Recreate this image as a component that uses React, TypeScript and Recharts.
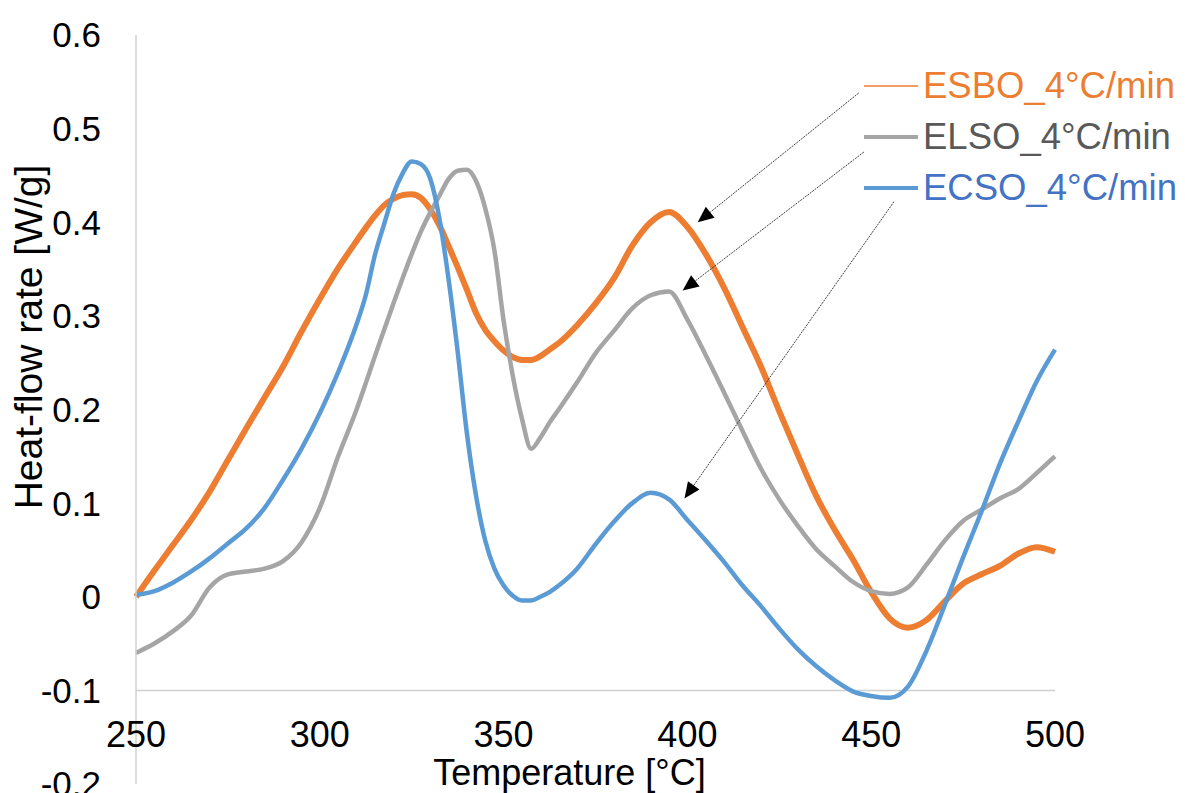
import { LineChart, Line, XAxis, YAxis, ReferenceLine, Legend } from 'recharts';

// temperature grid [°C] (finer around the sharp peaks)
const temps = [
  250, 255, 260, 265, 270, 275, 280, 285, 290, 295, 300, 305, 310,
  312.5, 315, 317.5, 320, 322.5, 325, 327.5, 330, 332.5, 335, 337.5, 340,
  342.5, 345, 347.5, 350, 352.5, 355, 357.5, 360, 362.5,
  365, 370, 375, 380, 385, 390, 395, 400, 405, 410, 415, 420, 425, 430,
  435, 440, 445, 450, 455, 460, 465, 470, 475, 480, 485, 490, 495, 500,
];

// heat-flow rate [W/g]
const esbo = [
  0.0, 0.028, 0.055, 0.082, 0.112, 0.146, 0.18, 0.213, 0.246, 0.283, 0.318, 0.351, 0.38,
  0.394, 0.407, 0.418, 0.425, 0.429, 0.43, 0.426, 0.414, 0.397, 0.375, 0.352, 0.328,
  0.303, 0.285, 0.273, 0.263, 0.256, 0.253, 0.253, 0.257, 0.264,
  0.271, 0.29, 0.313, 0.34, 0.375, 0.4, 0.411, 0.395, 0.366, 0.33, 0.288, 0.246, 0.198, 0.152,
  0.108, 0.072, 0.04, 0.005, -0.023, -0.033, -0.025, -0.005, 0.014, 0.024, 0.033, 0.046, 0.053, 0.048,
];

const elso = [
  -0.06, -0.05, -0.037, -0.02, 0.01, 0.024, 0.027, 0.03, 0.038, 0.058, 0.095, 0.15, 0.2,
  0.228, 0.257, 0.285, 0.313, 0.34, 0.366, 0.39, 0.41, 0.428, 0.446, 0.455, 0.456,
  0.444, 0.415, 0.37, 0.295, 0.236, 0.19, 0.158, 0.17, 0.186,
  0.2, 0.229, 0.26, 0.284, 0.308, 0.322, 0.326, 0.296, 0.258, 0.218, 0.177, 0.137, 0.104, 0.076,
  0.051, 0.033, 0.016, 0.006, 0.003, 0.01, 0.034, 0.06, 0.081, 0.093, 0.105, 0.115, 0.132, 0.15,
];

const ecso = [
  0.002, 0.006, 0.015, 0.027, 0.041, 0.057, 0.073, 0.095, 0.125, 0.158, 0.196, 0.24, 0.291,
  0.322, 0.365, 0.398, 0.43, 0.452, 0.465, 0.462, 0.447, 0.405, 0.34, 0.262, 0.175,
  0.108, 0.06, 0.03, 0.012, 0.001, -0.004, -0.004, 0.0, 0.005,
  0.012, 0.03, 0.056, 0.08, 0.1, 0.111, 0.104, 0.082, 0.06, 0.037, 0.012, -0.01, -0.034, -0.056,
  -0.074, -0.089, -0.101, -0.106, -0.108, -0.096, -0.058, -0.009, 0.042, 0.091, 0.142, 0.187, 0.23, 0.264,
];

const xTicks = [250, 300, 350, 400, 450, 500];
const yTicks = [-0.2, -0.1, 0, 0.1, 0.2, 0.3, 0.4, 0.5, 0.6];

const series = [
  { key: 'esbo', name: 'ESBO_4°C/min', color: '#ED7D31', text: '#ED7D31', width: 6, legendWidth: 1.5 },
  { key: 'elso', name: 'ELSO_4°C/min', color: '#A5A5A5', text: '#595959', width: 4.5, legendWidth: 4 },
  { key: 'ecso', name: 'ECSO_4°C/min', color: '#5B9BD5', text: '#4472C4', width: 4.5, legendWidth: 4 },
];

// annotation arrows, from legend towards the second peaks (data units)
const arrows = [
  { from: { x: 446.6, y: 0.538 }, to: { x: 402.8, y: 0.4 } },
  { from: { x: 448.0, y: 0.475 }, to: { x: 398.7, y: 0.327 } },
  { from: { x: 456.2, y: 0.422 }, to: { x: 399.2, y: 0.105 } },
];

const data = temps.map((t, i) => ({ t, esbo: esbo[i], elso: elso[i], ecso: ecso[i] }));

const FONT = '"Liberation Sans", Arial, sans-serif';

const fmt = (v: number) => String(Math.round(v * 10) / 10);

function Arrow(props: any) {
  const { x1, y1, x2, y2 } = props;
  const a = Math.atan2(y2 - y1, x2 - x1);
  const len = 16;
  const half = 7;
  const bx = x2 - len * Math.cos(a);
  const by = y2 - len * Math.sin(a);
  const p1 = `${bx + half * Math.sin(a)},${by - half * Math.cos(a)}`;
  const p2 = `${bx - half * Math.sin(a)},${by + half * Math.cos(a)}`;
  return (
    <g>
      <line x1={x1} y1={y1} x2={bx} y2={by} stroke="#404040" strokeWidth={1} strokeDasharray="2 1" />
      <polygon points={`${x2},${y2} ${p1} ${p2}`} fill="#000" />
    </g>
  );
}

// x tick labels sit between -0.1 and -0.2, above the bottom of the plot
function XTick(props: any) {
  const { x, y, payload } = props;
  return (
    <text x={x} y={y - 45} textAnchor="middle" fontSize={36} fill="#000" fontFamily={FONT}>
      {payload.value}
    </text>
  );
}

function YTitle(props: any) {
  const vb = props.viewBox;
  const cx = vb.x + 42;
  const cy = vb.y + 302;
  return (
    <text x={cx} y={cy} transform={`rotate(-90, ${cx}, ${cy})`} textAnchor="middle" fontSize={39} fill="#000" fontFamily={FONT}>
      Heat-flow rate [W/g]
    </text>
  );
}

function XTitle(props: any) {
  const vb = props.viewBox;
  return (
    <text x={vb.x + vb.width / 2 - 26} y={vb.y + 1} textAnchor="middle" fontSize={36} fill="#000" fontFamily={FONT}>
      Temperature [°C]
    </text>
  );
}

function renderLegend() {
  return (
    <div style={{ fontFamily: FONT }}>
      {series.map((s) => (
        <div key={s.key} style={{ display: 'flex', alignItems: 'center', height: 51 }}>
          <svg width={58} height={20} style={{ marginRight: 3 }}>
            <line x1={2} y1={10} x2={56} y2={10} stroke={s.color} strokeWidth={s.legendWidth} />
          </svg>
          <span style={{ fontSize: 36.5, color: s.text, whiteSpace: 'nowrap' }}>{s.name}</span>
        </div>
      ))}
    </div>
  );
}

export default function App() {
  return (
    <div style={{ position: 'absolute', left: 0, top: 0, width: 1185, height: 793, overflow: 'hidden', background: '#fff', fontFamily: FONT }}>
      <LineChart
        width={1185}
        height={850}
        data={data}
        margin={{ top: 35, right: 130, bottom: 6, left: 0 }}
        style={{ fontFamily: FONT }}
      >
        <XAxis
          type="number"
          dataKey="t"
          domain={[250, 500]}
          ticks={xTicks}
          axisLine={false}
          tickLine={false}
          height={60}
          tick={<XTick />}
          interval={0}
          label={{ content: XTitle }}
        />
        <YAxis
          type="number"
          domain={[-0.2, 0.6]}
          ticks={yTicks}
          width={136}
          axisLine={{ stroke: '#D0D0D0', strokeWidth: 1.5 }}
          tickLine={false}
          tickSize={0}
          tickMargin={35}
          interval={0}
          tick={{ fill: '#000', fontSize: 35, fontFamily: FONT }}
          tickFormatter={fmt}
          label={{ content: YTitle }}
        />
        <ReferenceLine y={-0.1} stroke="#D0D0D0" strokeWidth={1.5} />
        {series.map((s) => (
          <Line
            key={s.key}
            type="monotone"
            dataKey={s.key}
            name={s.name}
            stroke={s.color}
            strokeWidth={s.width}
            dot={false}
            isAnimationActive={false}
          />
        ))}
        {arrows.map((a, i) => (
          <ReferenceLine key={i} segment={[a.from, a.to]} shape={Arrow} />
        ))}
        <Legend
          layout="vertical"
          align="center"
          verticalAlign="middle"
          wrapperStyle={{ top: 60, left: 862, width: 330 }}
          content={renderLegend}
        />
      </LineChart>
    </div>
  );
}
